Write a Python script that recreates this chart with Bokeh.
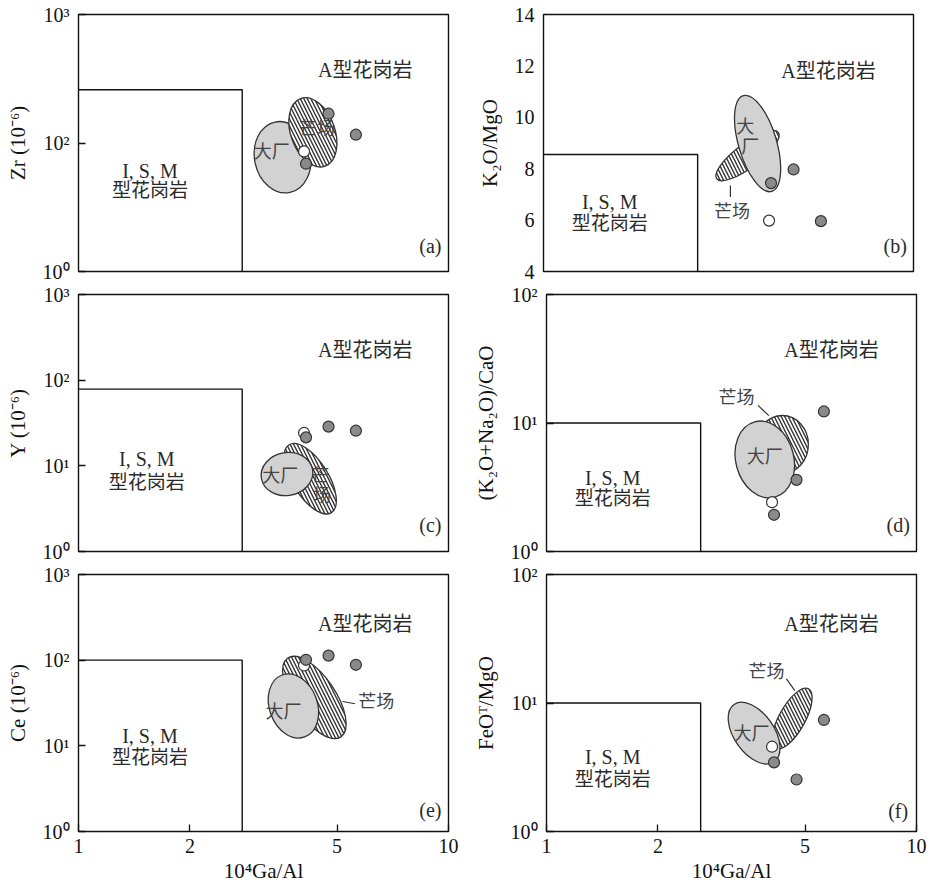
from bokeh.plotting import figure
from bokeh.layouts import column, row
from bokeh.models import FixedTicker
from bokeh.core.properties import value
from bokeh.embed import file_html
from bokeh.resources import INLINE

# ---------------- data ----------------
# four samples: one open circle, three filled circles
ga_al = [4.07, 4.12, 4.74, 5.62]            # 10^4 Ga/Al
sample_kind = ["open", "filled", "filled", "filled"]
zr = [86, 69, 169, 116]                      # Zr (ppm)
k2o_mgo = [5.98, 7.44, 7.97, 5.96]           # K2O/MgO
y_ppm = [24.2, 21.5, 28.7, 25.7]             # Y (ppm)
alk_cao = [2.42, 1.93, 3.61, 12.3]           # (K2O+Na2O)/CaO
ce = [86.6, 101, 113, 88.3]                  # Ce (ppm)
feot_mgo = [4.57, 3.45, 2.54, 7.38]          # FeOT/MgO

# I,S,M granite field upper-right corner per panel (a..f)
bound_ga = [2.77, 2.61, 2.77, 2.61, 2.77, 2.61]
bound_y = [260, 8.55, 78.5, 10, 100, 10]

# field centres (大厂 / 芒场) per panel (a..f)
dachang_x = [3.56, 3.79, 3.66, 3.89, 3.81, 3.64]
dachang_y = [77.5, 8.98, 8.03, 5.20, 29.2, 5.83]
mangchang_x = [4.30, 3.56, 4.23, 4.34, 4.34, 4.61]
mangchang_y = [121, 8.51, 7.08, 6.80, 36.7, 7.56]

x_ticks = [1, 2, 5, 10]
x_tick_labels = ["1", "2", "5", "10"]

# ---------------- styles ----------------
SERIF = "Liberation Serif"
MIXED = "Liberation Serif, Noto Sans CJK SC"
TXT = "#2a2a2a"
EDGE = "#333333"

# ellipse shapes in screen px: (width, height, angle deg)
dachang_shape = [(56, 72, 12), (38, 100, 16.5), (52, 43, 10), (58, 78, 15), (48, 66, 20), (40, 70, 35)]
mangchang_shape = [(44, 72, 20), (77, 24, 37), (36, 80, 32), (52, 58, 0), (42, 95, 34), (26, 68, -29)]

panels = [
    dict(tag="(a)", y=zr, ytype="log", yr=(10, 1000), yt=[10, 100, 1000],
         yl={10: "10⁰", 100: "10²", 1000: "10³"}, ylab="Zr (10⁻⁶)",
         a_pos=(5.96, 367), ism=(1.56, 61, 42.7), tag_pos=(8.93, 15.9), hatched_top=True,
         dc_text=[(3.33, 84.8, "大厂")], mc_text=[(4.41, 129, "芒场")], leader=None),
    dict(tag="(b)", y=k2o_mgo, ytype="linear", yr=(4, 14), yt=[4, 6, 8, 10, 12, 14],
         yl=None, ylab="K₂O/MgO",
         a_pos=(5.89, 11.82), ism=(1.51, 6.70, 5.86), tag_pos=(8.92, 5.01), hatched_top=False,
         dc_text=[(3.51, 9.61, "大"), (3.62, 8.84, "厂")], mc_text=[(3.23, 6.33, "芒场")],
         leader=((3.20, 3.20), (7.35, 6.90))),
    dict(tag="(c)", y=y_ppm, ytype="log", yr=(1, 1000), yt=[1, 10, 100, 1000],
         yl={1: "10⁰", 10: "10¹", 100: "10²", 1000: "10³"}, ylab="Y (10⁻⁶)",
         a_pos=(5.96, 222), ism=(1.53, 12.0, 6.4), tag_pos=(8.93, 2.04), hatched_top=False,
         dc_text=[(3.51, 7.67, "大厂")], mc_text=[(4.50, 7.67, "芒"), (4.55, 4.48, "场")], leader=None),
    dict(tag="(d)", y=alk_cao, ytype="log", yr=(1, 100), yt=[1, 10, 100],
         yl={1: "10⁰", 10: "10¹", 100: "10²"}, ylab="(K₂O+Na₂O)/CaO",
         a_pos=(5.89, 36.7), ism=(1.51, 3.72, 2.57), tag_pos=(8.92, 1.61), hatched_top=False,
         dc_text=[(3.89, 5.42, "大厂")], mc_text=[(3.26, 15.6, "芒场")],
         leader=((3.73, 3.99), (13.7, 11.4))),
    dict(tag="(e)", y=ce, ytype="log", yr=(1, 1000), yt=[1, 10, 100, 1000],
         yl={1: "10⁰", 10: "10¹", 100: "10²", 1000: "10³"}, ylab="Ce (10⁻⁶)",
         a_pos=(5.96, 266), ism=(1.56, 12.9, 7.37), tag_pos=(8.93, 1.76), hatched_top=False,
         dc_text=[(3.58, 24.7, "大厂")], mc_text=[(6.38, 32.3, "芒场")],
         leader=((5.17, 5.59), (32.9, 31.0))),
    dict(tag="(f)", y=feot_mgo, ytype="log", yr=(1, 100), yt=[1, 10, 100],
         yl={1: "10⁰", 10: "10¹", 100: "10²"}, ylab="FeOᵀ/MgO",
         a_pos=(5.89, 41.4), ism=(1.51, 3.77, 2.56), tag_pos=(8.92, 1.45), hatched_top=False,
         dc_text=[(3.58, 5.74, "大厂")], mc_text=[(3.93, 17.3, "芒场")],
         leader=((4.45, 4.69), (15.4, 12.5))),
]


def txt(p, x, y, s, size="19px", font=MIXED, color=TXT, align="center"):
    p.text(x=[x], y=[y], text=[s], text_font=value(font), text_font_size=size,
           text_color=color, text_align=align, text_baseline="middle")


figs = []
for i, d in enumerate(panels):
    left_col = (i % 2 == 0)
    r = i // 2
    bottom = (r == 2)
    p = figure(x_axis_type="log", y_axis_type=d["ytype"], x_range=(1, 10), y_range=d["yr"],
               frame_width=370, frame_height=257,
               min_border_left=78 if left_col else 73,
               min_border_right=22 if left_col else 10,
               min_border_top=14 if r == 0 else 12,
               min_border_bottom=44 if bottom else 11,
               output_backend="svg", toolbar_location=None)
    p.grid.visible = False
    p.outline_line_color = "#111111"
    p.outline_line_width = 1.4
    p.background_fill_color = "white"
    p.border_fill_color = "white"

    # y axis
    ya = p.yaxis[0]
    ya.ticker = FixedTicker(ticks=d["yt"], minor_ticks=[])
    if d["yl"]:
        ya.major_label_overrides = d["yl"]
        ya.major_tick_in = 7
    else:
        ya.major_tick_in = 0
    ya.major_tick_out = 0
    ya.major_tick_line_color = "#111111"
    ya.major_tick_line_width = 1.3
    ya.axis_line_color = None
    ya.major_label_text_font = SERIF
    ya.major_label_text_font_size = "20px"
    ya.major_label_text_color = "#111111"
    ya.major_label_standoff = 9
    ya.axis_label = d["ylab"]
    ya.axis_label_text_font = SERIF
    ya.axis_label_text_font_style = "normal"
    ya.axis_label_text_font_size = "21px"
    ya.axis_label_text_color = "#111111"
    ya.axis_label_standoff = 10

    xa = p.xaxis[0]
    if bottom:
        xa.ticker = FixedTicker(ticks=x_ticks, minor_ticks=[])
        xa.major_label_overrides = dict(zip(x_ticks, x_tick_labels))
        xa.major_tick_in = 7
        xa.major_tick_out = 0
        xa.major_tick_line_color = "#111111"
        xa.major_tick_line_width = 1.3
        xa.axis_line_color = None
        xa.major_label_text_font = SERIF
        xa.major_label_text_font_size = "20px"
        xa.major_label_text_color = "#111111"
        xa.major_label_standoff = 7
        xa.axis_label = "10⁴Ga/Al"
        xa.axis_label_text_font = SERIF
        xa.axis_label_text_font_style = "normal"
        xa.axis_label_text_font_size = "21px"
        xa.axis_label_text_color = "#111111"
        xa.axis_label_standoff = 3
    else:
        xa.visible = False

    # I,S,M field box
    y0 = d["yr"][0]
    bx, by = bound_ga[i], bound_y[i]
    p.line(x=[1, bx, bx], y=[by, by, y0], line_color="#111111", line_width=1.4)

    # field ellipses
    dw, dh, da = dachang_shape[i]
    mw, mh, ma = mangchang_shape[i]

    def draw_dc():
        p.ellipse(x=[dachang_x[i]], y=[dachang_y[i]], width=dw, height=dh, angle=da,
                  width_units="screen", height_units="screen", angle_units="deg",
                  fill_color="#d2d2d2", line_color=EDGE, line_width=1.3)

    def draw_mc():
        p.ellipse(x=[mangchang_x[i]], y=[mangchang_y[i]], width=mw, height=mh, angle=ma,
                  width_units="screen", height_units="screen", angle_units="deg",
                  fill_color="white", line_color=EDGE, line_width=1.3,
                  hatch_pattern="left_diagonal_line", hatch_color="#333333",
                  hatch_scale=7, hatch_weight=1.4)

    if d["hatched_top"]:
        draw_dc(); draw_mc()
    else:
        draw_mc(); draw_dc()

    # labels of fields
    for (tx, ty, s) in d["dc_text"]:
        txt(p, tx, ty, s, size="18px", color="#444444")
    for (tx, ty, s) in d["mc_text"]:
        txt(p, tx, ty, s, size="18px", color="#444444")
    if d["leader"]:
        p.line(x=list(d["leader"][0]), y=list(d["leader"][1]), line_color=EDGE, line_width=1.2)

    # samples
    ys = d["y"]
    ox = [g for g, k in zip(ga_al, sample_kind) if k == "open"]
    oy = [v for v, k in zip(ys, sample_kind) if k == "open"]
    fx = [g for g, k in zip(ga_al, sample_kind) if k == "filled"]
    fy = [v for v, k in zip(ys, sample_kind) if k == "filled"]
    p.scatter(x=ox, y=oy, size=11, marker="circle", fill_color="white", line_color=EDGE, line_width=1.2)
    p.scatter(x=fx, y=fy, size=11, marker="circle", fill_color="#8a8a8a", line_color=EDGE, line_width=1.2)

    # region texts
    txt(p, d["a_pos"][0], d["a_pos"][1], "A型花岗岩", size="20px")
    txt(p, d["ism"][0], d["ism"][1], "I, S, M", size="20px", font=SERIF)
    txt(p, d["ism"][0], d["ism"][2], "型花岗岩", size="19px")
    txt(p, d["tag_pos"][0], d["tag_pos"][1], d["tag"], size="20px", font=SERIF)

    figs.append(p)

layout = column(row(figs[0], figs[1], spacing=0),
                row(figs[2], figs[3], spacing=0),
                row(figs[4], figs[5], spacing=0), spacing=0)

open("out.html", "w").write(file_html(layout, INLINE))
